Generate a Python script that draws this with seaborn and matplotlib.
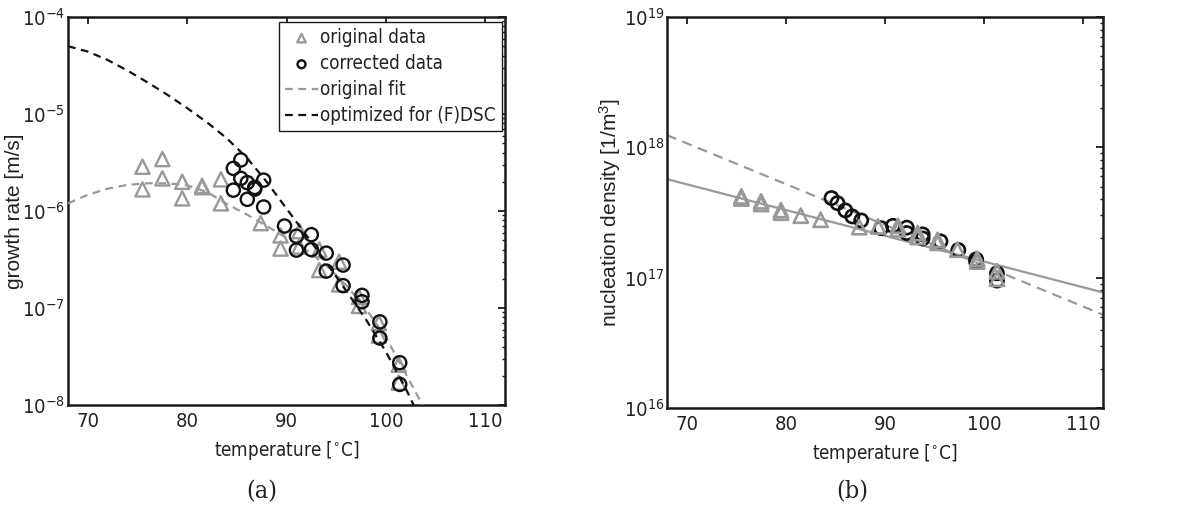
import numpy as np
import matplotlib
matplotlib.use("Agg")
import matplotlib.pyplot as plt
from matplotlib import font_manager
import seaborn as sns
from matplotlib.ticker import LogLocator, NullFormatter

# ---- (a) growth rate ----
growth_T_orig = [75.5, 75.5, 77.5, 77.5, 79.5, 79.5, 81.5, 81.5, 83.4, 83.4, 87.4,
                 89.4, 89.4, 91.3, 91.3, 93.3, 93.3, 95.3, 95.3, 97.3, 97.3,
                 99.3, 99.3, 101.3, 101.3]
growth_orig = [2.86e-6, 1.67e-6, 3.43e-6, 2.17e-6, 2.0e-6, 1.35e-6, 1.82e-6, 1.76e-6,
               2.12e-6, 1.2e-6, 7.5e-7, 5.6e-7, 4.1e-7, 6.2e-7, 4.3e-7, 4.0e-7,
               2.46e-7, 3.0e-7, 1.75e-7, 1.3e-7, 1.05e-7, 7.0e-8, 5.2e-8, 2.6e-8, 1.7e-8]

growth_T_corr = [84.65, 84.65, 85.4, 85.4, 86.05, 86.05, 86.8, 86.8, 87.7, 87.7, 89.8,
                 91.0, 91.0, 92.5, 92.5, 94.0, 94.0, 95.7, 95.7, 97.6, 97.6,
                 99.4, 99.4, 101.4, 101.4]
growth_corr = [2.75e-6, 1.64e-6, 3.36e-6, 2.17e-6, 1.96e-6, 1.32e-6, 1.75e-6, 1.68e-6,
               2.08e-6, 1.10e-6, 7.0e-7, 5.5e-7, 3.95e-7, 5.7e-7, 4.0e-7, 3.68e-7,
               2.40e-7, 2.77e-7, 1.70e-7, 1.35e-7, 1.16e-7, 7.2e-8, 4.9e-8, 2.73e-8, 1.63e-8]

fit_T = [68.0, 70.0, 72.0, 74.0, 76.0, 78.0, 80.0, 82.0, 84.0, 86.0, 88.0, 90.0,
         92.0, 94.0, 96.0, 98.0, 100.0, 102.0, 103.7]
fit_orig = [1.2e-6, 1.47e-6, 1.70e-6, 1.86e-6, 1.93e-6, 1.93e-6, 1.84e-6, 1.57e-6,
            1.18e-6, 9.2e-7, 7.0e-7, 5.3e-7, 3.95e-7, 2.75e-7, 1.72e-7, 9.8e-8,
            5.0e-8, 2.1e-8, 1.0e-8]

opt_T = [68.0, 70.0, 72.0, 74.0, 76.0, 78.0, 80.0, 82.0, 84.0, 86.0, 88.0, 90.0,
         92.0, 94.0, 96.0, 98.0, 100.0, 102.0, 102.8]
opt_fit = [5.0e-5, 4.4e-5, 3.6e-5, 2.8e-5, 2.12e-5, 1.58e-5, 1.15e-5, 8.2e-6,
           5.6e-6, 3.55e-6, 2.0e-6, 1.06e-6, 5.62e-7, 2.95e-7, 1.51e-7, 7.6e-8,
           3.55e-8, 1.48e-8, 1.0e-8]

# ---- (b) nucleation density ----
nuc_T_orig = [75.5, 75.5, 77.5, 77.5, 79.5, 79.5, 81.5, 83.5, 87.4, 89.3, 91.3, 91.3,
              93.3, 93.3, 95.3, 95.3, 97.3, 99.3, 99.3, 101.3, 101.3]
nuc_orig = [4.2e17, 4.05e17, 3.85e17, 3.67e17, 3.3e17, 3.15e17, 2.99e17, 2.78e17,
            2.44e17, 2.47e17, 2.5e17, 2.35e17, 2.2e17, 2.05e17, 1.95e17, 1.85e17,
            1.64e17, 1.4e17, 1.33e17, 1.12e17, 9.8e16]

nuc_T_corr = [84.6, 85.2, 86.0, 86.7, 87.6, 89.6, 90.8, 92.2, 92.2, 93.8, 93.8,
              95.6, 97.4, 99.2, 99.2, 101.3, 101.3]
nuc_corr = [4.08e17, 3.73e17, 3.28e17, 2.95e17, 2.75e17, 2.40e17, 2.5e17, 2.42e17,
            2.2e17, 2.15e17, 2.0e17, 1.9e17, 1.63e17, 1.38e17, 1.32e17, 1.08e17, 9.5e16]

nuc_fit_T = [68.0, 112.0]
nuc_fit_dashed = [1.24e18, 5.2e16]
nuc_fit_solid = [5.7e17, 7.7e16]

GRAY = "#999999"
BLACK = "#111111"
TEXT = "#222222"

sns.set_theme(style="white")

# the reference text is horizontally squeezed; use a narrow face if one exists
fonts = font_manager.fontManager.ttflist
names = {f.name for f in fonts}
stretch = "normal"
if "Liberation Sans Narrow" in names:
    SANS, FS = "Liberation Sans Narrow", 15
elif any(f.name == "DejaVu Sans" and f.stretch in ("condensed", 300) for f in fonts):
    SANS, FS, stretch = "DejaVu Sans", 13.5, "condensed"
else:
    SANS, FS = "Liberation Sans", 13
plt.rcParams["font.family"] = [SANS, "DejaVu Sans"]
plt.rcParams["font.stretch"] = stretch
plt.rcParams["mathtext.fontset"] = "custom"
plt.rcParams["mathtext.rm"] = SANS
plt.rcParams["mathtext.it"] = SANS + ":italic"
plt.rcParams["mathtext.bf"] = SANS + ":bold"
plt.rcParams["mathtext.default"] = "regular"

fig = plt.figure(figsize=(11.86, 5.17), dpi=100)
ax1 = fig.add_axes([68 / 1186, 112 / 517, 437 / 1186, 388 / 517])
ax2 = fig.add_axes([667 / 1186, 109 / 517, 436 / 1186, 391 / 517])


def style_axes(ax, ylim, ylabel):
    ax.set_yscale("log")
    ax.set_xlim(68, 112)
    ax.set_ylim(*ylim)
    ax.set_xticks([70, 80, 90, 100, 110])
    ax.yaxis.set_major_locator(LogLocator(base=10, numticks=12))
    ax.yaxis.set_minor_locator(LogLocator(base=10, subs=np.arange(2, 10), numticks=12))
    ax.yaxis.set_minor_formatter(NullFormatter())
    ax.tick_params(which="both", direction="in", top=True, right=True,
                   color="k", labelcolor=TEXT, labelsize=FS + 1)
    ax.tick_params(which="major", length=5, width=1.3)
    ax.tick_params(which="minor", length=2.5, width=1.0)
    ax.tick_params(axis="x", pad=5)
    ax.tick_params(axis="y", pad=2)
    for sp in ax.spines.values():
        sp.set_linewidth(1.8)
        sp.set_color("k")
    ax.set_xlabel(r"temperature [$^{\circ}$C]", fontsize=FS, color=TEXT)
    ax.set_ylabel(ylabel, fontsize=15, color=TEXT, family=["Liberation Sans", "DejaVu Sans"],
                  stretch="normal")
    ax.xaxis.set_label_coords(0.5, -0.088)
    ax.yaxis.set_label_coords(-0.1, 0.5)


# (a)
sns.scatterplot(x=growth_T_orig, y=growth_orig, ax=ax1, marker="^", s=105,
                facecolor="none", edgecolor=GRAY, linewidth=1.7,
                label="original data", zorder=2)
sns.scatterplot(x=growth_T_corr, y=growth_corr, ax=ax1, marker="o", s=90,
                facecolor="none", edgecolor=BLACK, linewidth=1.7,
                label="corrected data", zorder=4)
sns.lineplot(x=fit_T, y=fit_orig, ax=ax1, color=GRAY, linewidth=1.6,
             linestyle=(0, (3.5, 2.5)), label="original fit", zorder=3)
sns.lineplot(x=opt_T, y=opt_fit, ax=ax1, color=BLACK, linewidth=1.6,
             linestyle=(0, (3.5, 2.5)), label="optimized for (F)DSC", zorder=3)
style_axes(ax1, (1e-8, 1e-4), "growth rate [m/s]")
leg = ax1.legend(loc="upper right", bbox_to_anchor=(0.992, 0.986), borderaxespad=0,
                 fontsize=FS, frameon=True, fancybox=False, framealpha=1,
                 edgecolor="k", markerscale=0.6, handlelength=1.8,
                 handletextpad=0.1, labelspacing=0.38, borderpad=0.3)
leg.get_frame().set_linewidth(1.0)
for t in leg.get_texts():
    t.set_color(TEXT)

# (b)
sns.lineplot(x=nuc_fit_T, y=nuc_fit_dashed, ax=ax2, color=GRAY, linewidth=1.6,
             linestyle=(0, (4.5, 3)), zorder=2)
sns.lineplot(x=nuc_fit_T, y=nuc_fit_solid, ax=ax2, color=GRAY, linewidth=1.6, zorder=2)
sns.scatterplot(x=nuc_T_corr, y=nuc_corr, ax=ax2, marker="o", s=90,
                facecolor="none", edgecolor=BLACK, linewidth=1.9, zorder=3)
sns.scatterplot(x=nuc_T_orig, y=nuc_orig, ax=ax2, marker="^", s=105,
                facecolor="none", edgecolor=GRAY, linewidth=1.9, zorder=4)
style_axes(ax2, (1e16, 1e19), r"nucleation density [1/m$^3$]")

for xc, cap in [(262, "(a)"), (852, "(b)")]:
    fig.text(xc / 1186, 1 - 492 / 517, cap, ha="center", va="center",
             family="DejaVu Serif", fontsize=18, color=TEXT)

fig.savefig("out.png", dpi=100)
